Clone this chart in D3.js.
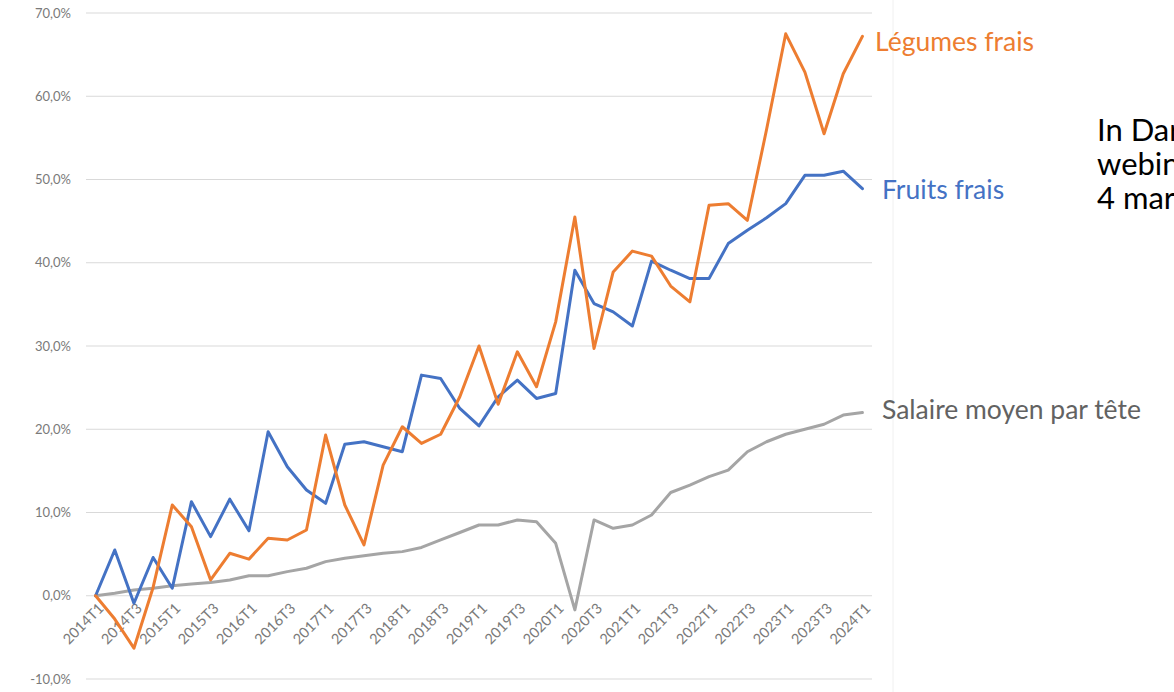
<!DOCTYPE html>
<html lang="fr">
<head>
<meta charset="utf-8">
<title>Prix fruits et légumes frais vs salaire</title>
<script src="https://cdn.jsdelivr.net/npm/d3@7"></script>
<style>
  body { margin: 0; background: #fff; font-family: Lato, "Open Sans", sans-serif; }
  .grid line { stroke: #d9d9d9; stroke-width: 1px; }
  .axis text { fill: #7a7a7a; font-family: Lato, sans-serif; }
  .axis path, .axis line { display: none; }
  .serie { fill: none; stroke-width: 3px; stroke-linejoin: round; stroke-linecap: round; }
</style>
</head>
<body>
<div id="chart"></div>
<script>

// categories (trimestres)
var quarters = ["2014T1","2014T2","2014T3","2014T4","2015T1","2015T2","2015T3","2015T4",
  "2016T1","2016T2","2016T3","2016T4","2017T1","2017T2","2017T3","2017T4",
  "2018T1","2018T2","2018T3","2018T4","2019T1","2019T2","2019T3","2019T4",
  "2020T1","2020T2","2020T3","2020T4","2021T1","2021T2","2021T3","2021T4",
  "2022T1","2022T2","2022T3","2022T4","2023T1","2023T2","2023T3","2023T4","2024T1"];

// evolution cumulee depuis 2014T1, en %
var legumes = [0, -2.8, -6.3, 1.0, 10.9, 8.3, 1.9, 5.1, 4.4, 6.9, 6.7, 7.9, 19.3, 10.9, 6.1, 15.7,
  20.3, 18.3, 19.4, 23.9, 30.0, 23.0, 29.3, 25.1, 32.9, 45.5, 29.7, 38.9, 41.4, 40.8, 37.2, 35.3,
  46.9, 47.1, 45.1, 56.0, 67.5, 62.9, 55.5, 62.7, 67.2];

var fruits = [0, 5.5, -0.9, 4.6, 0.9, 11.3, 7.1, 11.6, 7.8, 19.7, 15.5, 12.7, 11.1, 18.2, 18.5, 17.9,
  17.3, 26.5, 26.1, 22.5, 20.4, 23.9, 25.9, 23.7, 24.3, 39.1, 35.1, 34.1, 32.4, 40.2, 39.1, 38.1,
  38.1, 42.3, 43.9, 45.4, 47.1, 50.5, 50.5, 51.0, 48.9];

var salaire = [0, 0.3, 0.7, 0.9, 1.2, 1.4, 1.6, 1.9, 2.4, 2.4, 2.9, 3.3, 4.1, 4.5, 4.8, 5.1,
  5.3, 5.8, 6.7, 7.6, 8.5, 8.5, 9.1, 8.9, 6.3, -1.7, 9.1, 8.1, 8.5, 9.7, 12.4, 13.3,
  14.3, 15.1, 17.3, 18.5, 19.4, 20.0, 20.6, 21.7, 22.0];

var yTicks = [-10, 0, 10, 20, 30, 40, 50, 60, 70];

var series = [
  {name: "Légumes frais", values: legumes, color: "#ED7D31", text: "#ED7D31"},
  {name: "Fruits frais", values: fruits, color: "#4472C4", text: "#4472C4"},
  {name: "Salaire moyen par tête", values: salaire, color: "#A5A5A5", text: "#626262"}
];

var width = 1174, height = 692;
var plot = {left: 86, right: 872, top: 13, bottom: 679};

var svg = d3.select("#chart").append("svg")
  .attr("width", width)
  .attr("height", height);

svg.append("rect").attr("width", width).attr("height", height).attr("fill", "#fff");

// scales
var x = d3.scalePoint()
  .domain(quarters)
  .range([plot.left, plot.right])
  .padding(0.5);

var y = d3.scaleLinear()
  .domain([-10, 70])
  .range([plot.bottom, plot.top]);

// french number format
var fr = d3.formatLocale({decimal: ",", thousands: " ", grouping: [3], currency: ["", " €"], minus: "-"});
var fmt = fr.format(".1f");

// gridlines
svg.append("g")
  .attr("class", "grid")
  .selectAll("line")
  .data(yTicks)
  .enter()
  .append("line")
  .attr("x1", plot.left)
  .attr("x2", plot.right)
  .attr("y1", function(d) { return y(d); })
  .attr("y2", function(d) { return y(d); });

// faint frame line on the right of the chart
svg.append("line")
  .attr("x1", 893).attr("x2", 893)
  .attr("y1", 0).attr("y2", height)
  .attr("stroke", "#f0f0f0");

// y axis
var yAxis = d3.axisLeft(y)
  .tickValues(yTicks)
  .tickSize(0)
  .tickPadding(0)
  .tickFormat(function(d) { return fmt(d) + "%"; });

svg.append("g")
  .attr("class", "axis")
  .attr("transform", "translate(71,0)")
  .call(yAxis)
  .selectAll("text")
  .style("font-size", "13px");

// x axis, labels every 2 quarters
var xAxis = d3.axisBottom(x)
  .tickValues(quarters.filter(function(d, i) { return i % 2 == 0; }))
  .tickSize(0);

var gx = svg.append("g")
  .attr("class", "axis")
  .attr("transform", "translate(0," + y(0) + ")")
  .call(xAxis);

gx.selectAll("text")
  .attr("x", 0)
  .attr("y", 0)
  .attr("dy", "0.35em")
  .attr("text-anchor", "end")
  .attr("transform", "translate(5,10) rotate(-45)")
  .style("font-size", "14.5px");

// lines
var line = d3.line()
  .x(function(d, i) { return x(quarters[i]); })
  .y(function(d) { return y(d); });

svg.selectAll(".serie")
  .data(series.slice().reverse())
  .enter()
  .append("path")
  .attr("class", "serie")
  .attr("d", function(d) { return line(d.values); })
  .attr("stroke", function(d) { return d.color; });

// series labels
var labelPos = [
  {x: 875, y: 51},
  {x: 882, y: 199},
  {x: 882, y: 419}
];

svg.selectAll(".slabel")
  .data(series)
  .enter()
  .append("text")
  .attr("class", "slabel")
  .attr("x", function(d, i) { return labelPos[i].x; })
  .attr("y", function(d, i) { return labelPos[i].y; })
  .attr("fill", function(d) { return d.text; })
  .style("font-size", "26.5px")
  .text(function(d) { return d.name; });

// note on the right, cut by the page edge as in the slide
var note = ["In Dares", "webinar", "4 mars"];
svg.selectAll(".note")
  .data(note)
  .enter()
  .append("text")
  .attr("class", "note")
  .attr("x", 1097)
  .attr("y", function(d, i) { return 141 + i * 34; })
  .attr("fill", "#000")
  .style("font-size", "31px")
  .text(function(d) { return d; });

</script>
</body>
</html>
